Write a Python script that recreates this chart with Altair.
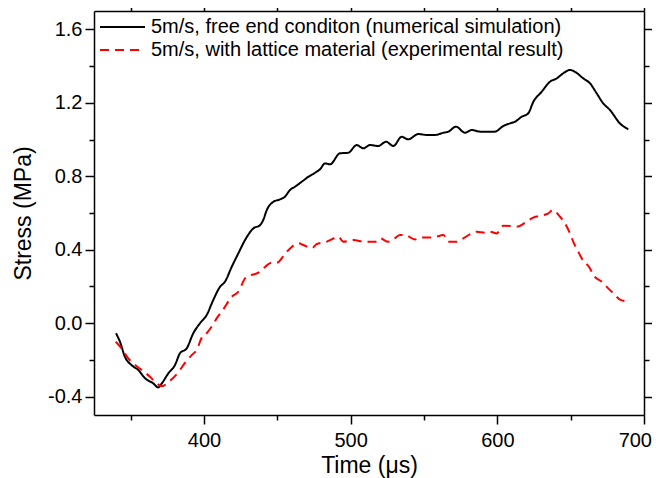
import altair as alt
import pandas as pd

# Numerical simulation (black solid)
sim_time = [340, 342.7, 346.1, 350.7, 355.2, 359.8, 365.4, 368.8, 371.2, 375.7, 380.2, 383.6, 388.2,
            392.7, 397.3, 401.8, 406.3, 410.9, 414.3, 418.9, 423.4, 428, 433.6, 438.2, 440.4, 442.8,
            447.3, 451.8, 455.2, 458.6, 462, 466.6, 471.1, 475.7, 479.1, 482.5, 485.9, 492.7, 498.4,
            504.1, 508.6, 513.2, 518.8, 524.1, 529.1, 534.8, 539.3, 546.1, 551.8, 557.5, 563.2, 566.6,
            571.8, 578, 582.5, 588.2, 593.0, 598.4, 604.1, 608.6, 612, 616.6, 621.1, 624.5, 630.2,
            635.9, 640.5, 645, 649.5, 652.9, 658.6, 663.2, 667.7, 672.2, 676.8, 683.6, 689.3]
sim_stress = [-0.055, -0.101, -0.183, -0.229, -0.255, -0.30, -0.328, -0.35, -0.328, -0.273, -0.228,
              -0.164, -0.137, -0.055, 0.0, 0.044, 0.126, 0.198, 0.226, 0.307, 0.380, 0.453, 0.516,
              0.534, 0.562, 0.616, 0.661, 0.674, 0.689, 0.725, 0.743, 0.770, 0.797, 0.819, 0.838,
              0.870, 0.865, 0.925, 0.928, 0.970, 0.952, 0.970, 0.965, 0.988, 0.965, 1.015, 1.001,
              1.030, 1.025, 1.025, 1.037, 1.043, 1.070, 1.037, 1.052, 1.043, 1.042, 1.043, 1.074,
              1.088, 1.097, 1.124, 1.143, 1.205, 1.260, 1.315, 1.333, 1.361, 1.379, 1.369, 1.333,
              1.306, 1.252, 1.197, 1.161, 1.088, 1.056]

# Experimental result (red dashed)
exp_time = [339.8, 343.8, 348.4, 351.8, 357.5, 363.2, 367.7, 371.2, 376.8, 383.6, 385.9, 391.6, 395,
            398.4, 401.8, 406.3, 408.6, 413.2, 418.9, 423.4, 428, 432, 437.1, 439.3, 446.2, 449.6,
            456.4, 464.3, 467.7, 473.4, 476.8, 483.6, 487, 491.6, 495, 501.8, 509.8, 516.6, 520,
            525.7, 529.1, 533.6, 537, 543.9, 547.3, 556.3, 563.2, 566.6, 572.2, 576.8, 582.5, 585.9,
            591.6, 595, 599.5, 604.1, 614.3, 618.9, 624.5, 627.9, 634.8, 637.7, 642.7, 646.1, 649.5,
            651.8, 655.2, 657.5, 663.2, 665.5, 671.2, 674.6, 680.3, 683.3, 689.3]
exp_stress = [-0.101, -0.137, -0.192, -0.219, -0.255, -0.292, -0.328, -0.343, -0.314, -0.255, -0.228,
              -0.174, -0.146, -0.080, -0.055, -0.005, 0.026, 0.076, 0.144, 0.171, 0.244, 0.262, 0.275,
              0.289, 0.329, 0.329, 0.389, 0.435, 0.426, 0.408, 0.43, 0.443, 0.456, 0.471, 0.443, 0.453,
              0.443, 0.443, 0.462, 0.443, 0.456, 0.48, 0.48, 0.456, 0.467, 0.467, 0.48, 0.443, 0.443,
              0.462, 0.489, 0.498, 0.493, 0.498, 0.489, 0.531, 0.527, 0.547, 0.575, 0.583, 0.598, 0.616,
              0.58, 0.544, 0.489, 0.443, 0.389, 0.353, 0.298, 0.262, 0.226, 0.198, 0.153, 0.130, 0.117]

series_names = ["5m/s, free end conditon (numerical simulation)",
                "5m/s, with lattice material (experimental result)"]
series_colors = ["#000000", "#ff0000"]
series_dashes = [[1, 0], [9, 6]]

x_ticks = [350, 400, 450, 500, 550, 600, 650, 700]
y_ticks = [-0.4, -0.2, 0.0, 0.2, 0.4, 0.6, 0.8, 1.0, 1.2, 1.4, 1.6]

rows = []
for t, v in zip(sim_time, sim_stress):
    rows.append({"time": t, "stress": v, "series": series_names[0]})
for t, v in zip(exp_time, exp_stress):
    rows.append({"time": t, "stress": v, "series": series_names[1]})
df = pd.DataFrame(rows)

FONT = "Liberation Sans"
x_major = "datum.value % 100 === 0"
y_major = "abs(datum.value * 2.5 - round(datum.value * 2.5)) < 0.01"
y_label = ("datum.value < 0 ? '-' + format(-datum.value, '.1f') : format(datum.value, '.1f')")

x_scale = alt.Scale(domain=[325, 700], nice=False, zero=False)
y_scale = alt.Scale(domain=[-0.5, 1.7], nice=False, zero=False)

x_bottom = alt.Axis(orient="bottom", values=x_ticks, title="Time (\u03bcs)",
                    labelExpr=f"{x_major} ? datum.label : ''",
                    labelFlush=True, labelFlushOffset=7.5,
                    tickSize={"condition": {"test": x_major, "value": 9}, "value": 5},
                    labelPadding=6, titlePadding=4)
y_left = alt.Axis(orient="left", values=y_ticks, title="Stress (MPa)",
                  labelExpr=f"{y_major} ? {y_label} : ''", labelFlush=False,
                  tickSize={"condition": {"test": y_major, "value": 9}, "value": 5},
                  labelPadding=3, titlePadding=12)
x_top = alt.Axis(orient="top", values=x_ticks, title=None, labels=False,
                 tickSize={"condition": {"test": x_major, "value": 9}, "value": 5})
y_right = alt.Axis(orient="right", values=y_ticks, title=None, labels=False,
                   tickSize={"condition": {"test": y_major, "value": 9}, "value": 5})

legend = alt.Legend(title=None, orient="none", legendX=18.5, legendY=6,
                    symbolType="M-2.5,0H2.5", symbolSize=324, symbolStrokeWidth=2,
                    labelFontSize=20, labelFont=FONT, labelColor="black", labelOffset=18.5,
                    rowPadding=3, padding=0, labelLimit=600)

lines = alt.Chart(df).mark_line(strokeWidth=2, interpolate="monotone").encode(
    x=alt.X("time:Q", scale=x_scale, axis=x_bottom),
    y=alt.Y("stress:Q", scale=y_scale, axis=y_left),
    color=alt.Color("series:N", scale=alt.Scale(domain=series_names, range=series_colors),
                    legend=legend, sort=series_names),
    strokeDash=alt.StrokeDash("series:N", scale=alt.Scale(domain=series_names, range=series_dashes),
                              legend=legend, sort=series_names),
)

mirror = alt.Chart(df).mark_point(opacity=0).encode(
    x=alt.X("time:Q", scale=x_scale, axis=x_top),
    y=alt.Y("stress:Q", scale=y_scale, axis=y_right),
)

chart = alt.layer(lines, mirror).properties(
    width=550, height=404,
    autosize=alt.AutoSizeParams(type="none"),
    padding={"left": 86, "top": 3, "right": 8, "bottom": 63},
).configure_view(stroke=None).configure_axis(
    grid=False, domainColor="black", domainWidth=1.5, tickColor="black", tickWidth=1.5,
    labelFont=FONT, labelFontSize=20, labelColor="black",
    titleFont=FONT, titleFontSize=23, titleFontWeight="normal", titleColor="black",
)

chart.save("out.html", embed_options={"renderer": "svg", "actions": False})
